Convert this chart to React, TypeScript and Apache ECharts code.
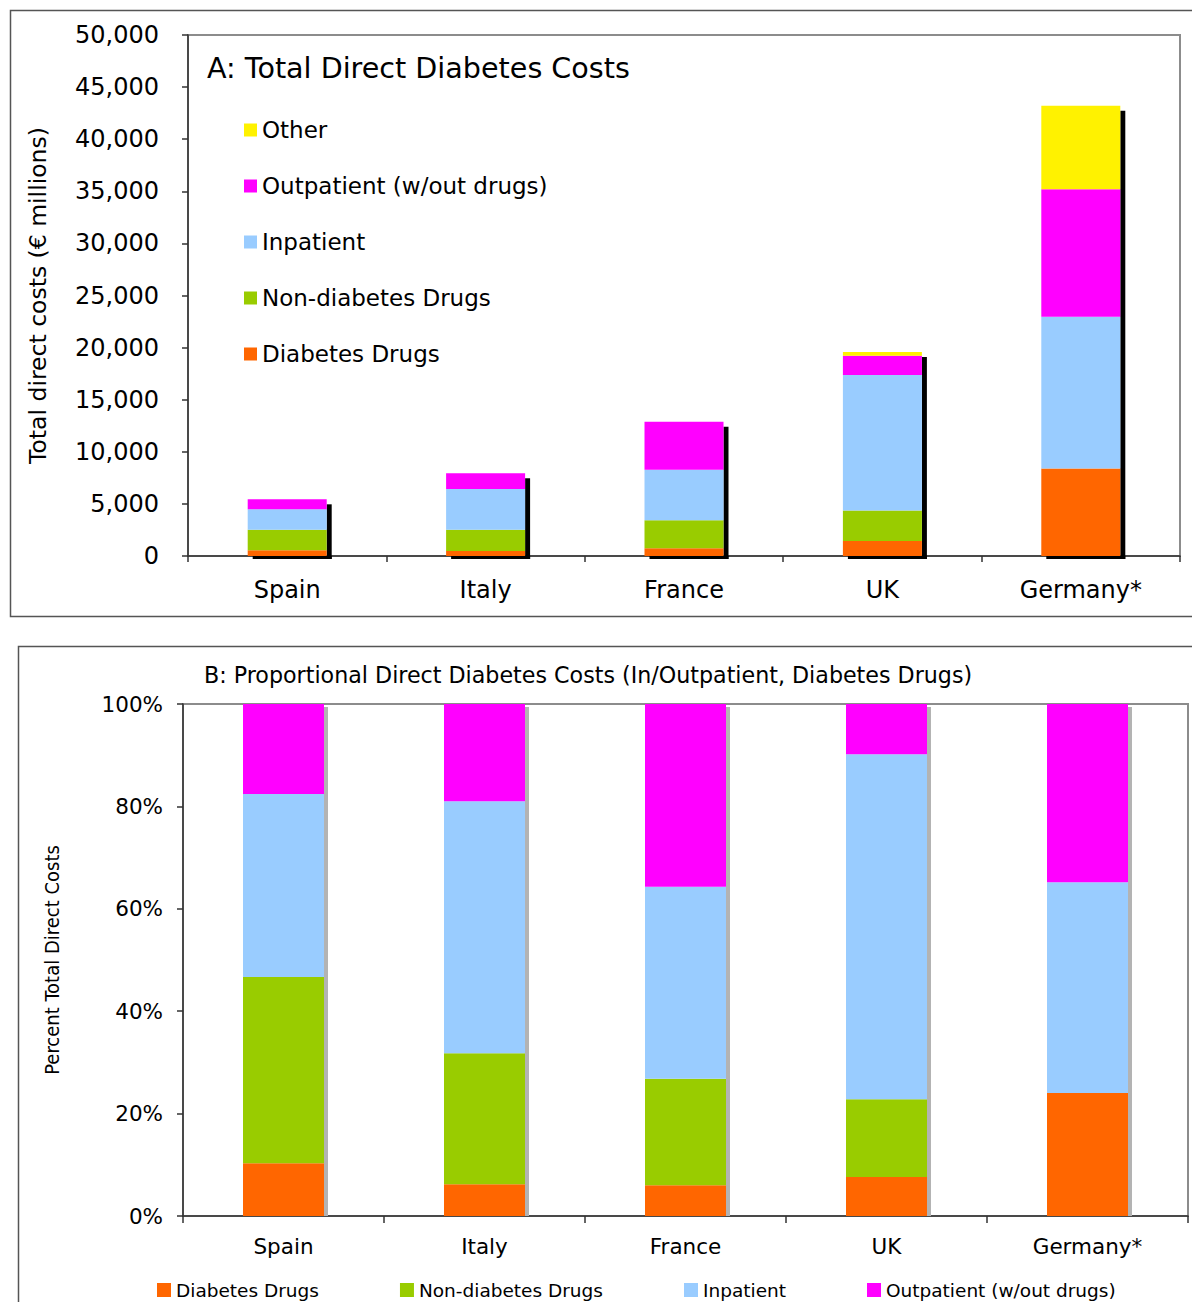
import React, { useEffect, useRef } from "react";
import * as echarts from "echarts";

// ---- Data ----
const categories = ["Spain", "Italy", "France", "UK", "Germany*"];

// Panel A: total direct costs (€ millions)
const diabetesDrugs = [550, 470, 750, 1440, 8400];
const nonDiabetesDrugs = [1980, 2050, 2680, 2920, 0];
const inpatient = [1960, 3900, 4850, 13000, 14550];
const outpatient = [950, 1520, 4600, 1860, 12250];
const other = [0, 0, 0, 360, 8000];

// Panel B: proportional costs (%)
const pctDiabetesDrugs = [10.3, 6.2, 6.0, 7.6, 24.0];
const pctNonDiabetesDrugs = [36.4, 25.6, 20.8, 15.2, 0];
const pctInpatient = [35.7, 49.2, 37.5, 67.4, 41.2];
const pctOutpatient = [17.6, 19.0, 35.7, 9.8, 34.8];

const axisAMax = 50000;
const axisAInterval = 5000;
const axisBMax = 100;
const axisBInterval = 20;

const NAMES = {
  dd: "Diabetes Drugs",
  nd: "Non-diabetes Drugs",
  ip: "Inpatient",
  op: "Outpatient (w/out drugs)",
  ot: "Other",
};
const COLORS = {
  dd: "#FF6600",
  nd: "#99CC00",
  ip: "#99CCFF",
  op: "#FF00FF",
  ot: "#FFF200",
};

const FONT = "DejaVu Sans, Verdana, sans-serif";
const BAR_A = 79;
const BAR_B = 81;

function shadowSeries(
  totals: number[],
  axisIdx: number,
  W: number,
  offX: number,
  offY: number,
  sw: number,
  bottomH: number,
  fill: string
) {
  return {
    type: "custom",
    xAxisIndex: axisIdx,
    yAxisIndex: axisIdx,
    silent: true,
    z: 1,
    data: totals.map((t, i) => [i, t]),
    encode: { x: 0, y: 1 },
    renderItem: (params: any, api: any) => {
      const idx = api.value(0);
      const total = api.value(1);
      const top = api.coord([idx, total]);
      const base = api.coord([idx, 0]);
      const half = W / 2;
      const children: any[] = [
        {
          type: "rect",
          shape: {
            x: top[0] + half,
            y: top[1] + offY,
            width: sw,
            height: base[1] - top[1] - offY + bottomH,
          },
          style: { fill },
        },
      ];
      if (bottomH > 0) {
        children.push({
          type: "rect",
          shape: { x: top[0] - half + offX, y: base[1], width: W, height: bottomH },
          style: { fill },
        });
      }
      return { type: "group", children };
    },
  };
}

export default function App() {
  const ref = useRef<HTMLDivElement>(null);

  useEffect(() => {
    document.body.style.margin = "0";
    if (!ref.current) return;
    const chart = echarts.init(ref.current, null, { renderer: "svg" });

    const totalsA = categories.map(
      (_, i) => diabetesDrugs[i] + nonDiabetesDrugs[i] + inpatient[i] + outpatient[i] + other[i]
    );
    const totalsB = categories.map(
      (_, i) => pctDiabetesDrugs[i] + pctNonDiabetesDrugs[i] + pctInpatient[i] + pctOutpatient[i]
    );

    const barA = (key: keyof typeof NAMES, data: number[]) => ({
      name: NAMES[key],
      type: "bar",
      stack: "A",
      xAxisIndex: 0,
      yAxisIndex: 0,
      barWidth: BAR_A,
      z: 2,
      itemStyle: { color: COLORS[key] },
      data,
    });
    const barB = (key: keyof typeof NAMES, data: number[]) => ({
      name: NAMES[key],
      type: "bar",
      stack: "B",
      xAxisIndex: 1,
      yAxisIndex: 1,
      barWidth: BAR_B,
      z: 2,
      itemStyle: { color: COLORS[key] },
      data,
    });

    const axisLineDark = { show: true, lineStyle: { color: "#333", width: 1.5 } };

    const option: any = {
      animation: false,
      textStyle: { fontFamily: FONT },
      graphic: [
        {
          type: "rect",
          shape: { x: 10.5, y: 10.5, width: 1250, height: 606 },
          style: { fill: "none", stroke: "#555", lineWidth: 1.5 },
          z: -10,
        },
        {
          type: "rect",
          shape: { x: 18.5, y: 646.5, width: 1250, height: 720 },
          style: { fill: "none", stroke: "#555", lineWidth: 1.5 },
          z: -10,
        },
      ],
      title: [
        {
          text: "A: Total Direct Diabetes Costs",
          left: 207,
          top: 53,
          textStyle: { fontFamily: FONT, fontSize: 28.6, fontWeight: "normal", color: "#000" },
          padding: 0,
        },
        {
          text: "B: Proportional Direct Diabetes Costs (In/Outpatient, Diabetes Drugs)",
          left: 204,
          top: 664,
          textStyle: { fontFamily: FONT, fontSize: 22.2, fontWeight: "normal", color: "#000" },
          padding: 0,
        },
      ],
      legend: [
        {
          orient: "vertical",
          left: 244,
          top: 118,
          padding: 0,
          icon: "rect",
          itemWidth: 13,
          itemHeight: 13,
          itemGap: 32,
          selectedMode: false,
          textStyle: { fontFamily: FONT, fontSize: 23, color: "#000", lineHeight: 24 },
          data: [NAMES.ot, NAMES.op, NAMES.ip, NAMES.nd, NAMES.dd],
        },
        {
          orient: "horizontal",
          left: 157,
          top: 1280,
          padding: 0,
          icon: "rect",
          itemWidth: 14,
          itemHeight: 14,
          itemGap: 81,
          selectedMode: false,
          textStyle: { fontFamily: FONT, fontSize: 18.5, color: "#000", lineHeight: 20 },
          data: [NAMES.dd, NAMES.nd, NAMES.ip, NAMES.op],
        },
      ],
      grid: [
        {
          left: 188,
          top: 35,
          width: 992,
          height: 521,
          show: true,
          borderColor: "#8c8c8c",
          borderWidth: 2,
          backgroundColor: "transparent",
          containLabel: false,
        },
        {
          left: 183,
          top: 704,
          width: 1005,
          height: 512,
          show: true,
          borderColor: "#8c8c8c",
          borderWidth: 2,
          backgroundColor: "transparent",
          containLabel: false,
        },
      ],
      xAxis: [
        {
          type: "category",
          gridIndex: 0,
          data: categories,
          axisLine: axisLineDark,
          axisTick: { show: true, length: 6, lineStyle: { color: "#333", width: 1.5 } },
          axisLabel: { fontFamily: FONT, fontSize: 24, color: "#000", margin: 22 },
          splitLine: { show: false },
        },
        {
          type: "category",
          gridIndex: 1,
          data: categories,
          axisLine: axisLineDark,
          axisTick: { show: true, length: 7, lineStyle: { color: "#333", width: 1.5 } },
          axisLabel: { fontFamily: FONT, fontSize: 21.5, color: "#000", margin: 19 },
          splitLine: { show: false },
        },
      ],
      yAxis: [
        {
          type: "value",
          gridIndex: 0,
          min: 0,
          max: axisAMax,
          interval: axisAInterval,
          name: "Total direct costs (€ millions)",
          nameLocation: "middle",
          nameGap: 138,
          nameTextStyle: { fontFamily: FONT, fontSize: 23.5, color: "#000" },
          axisLine: axisLineDark,
          axisTick: { show: true, length: 6, lineStyle: { color: "#333", width: 1.5 } },
          axisLabel: {
            fontFamily: FONT,
            fontSize: 24,
            color: "#000",
            margin: 29,
            formatter: (v: number) => v.toLocaleString("en-US"),
          },
          splitLine: { show: false },
        },
        {
          type: "value",
          gridIndex: 1,
          min: 0,
          max: axisBMax,
          interval: axisBInterval,
          name: "Percent Total Direct Costs",
          nameLocation: "middle",
          nameGap: 121,
          nameTextStyle: {
            fontFamily: "DejaVu Sans Condensed, Liberation Sans, sans-serif",
            fontSize: 20,
            color: "#000",
          },
          axisLine: axisLineDark,
          axisTick: { show: true, length: 6, lineStyle: { color: "#333", width: 1.5 } },
          axisLabel: {
            fontFamily: FONT,
            fontSize: 21.5,
            color: "#000",
            margin: 20,
            formatter: "{value}%",
          },
          splitLine: { show: false },
        },
      ],
      series: [
        shadowSeries(totalsA, 0, BAR_A, 5, 5, 5, 3, "#000"),
        barA("dd", diabetesDrugs),
        barA("nd", nonDiabetesDrugs),
        barA("ip", inpatient),
        barA("op", outpatient),
        barA("ot", other),
        shadowSeries(totalsB, 1, BAR_B, 0, 3, 4, 0, "#b3b3b3"),
        barB("dd", pctDiabetesDrugs),
        barB("nd", pctNonDiabetesDrugs),
        barB("ip", pctInpatient),
        barB("op", pctOutpatient),
      ],
    };

    chart.setOption(option);
    return () => {
      chart.dispose();
    };
  }, []);

  return <div ref={ref} style={{ width: 1192, height: 1302 }} />;
}
